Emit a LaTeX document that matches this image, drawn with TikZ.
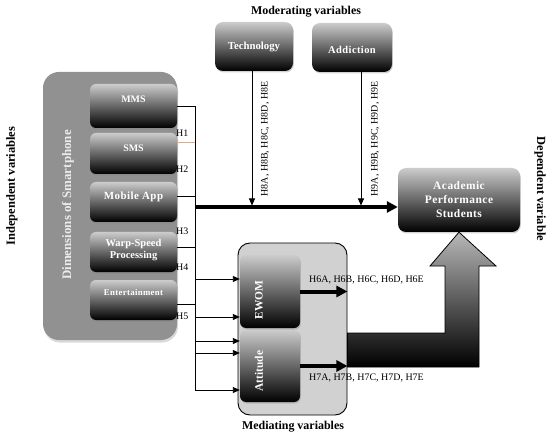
\documentclass[tikz,border=0pt]{standalone}
\usepackage{fontspec}
\setmainfont{Liberation Serif}
\newfontfamily\spacedbold[LetterSpace=4,BoldFont={* Bold}]{Liberation Serif}
\usetikzlibrary{arrows.meta,calc,shadows}
\begin{document}
\begin{tikzpicture}[x=1bp,y=-1bp,
  darkbox/.style={rounded corners=6bp, top color=black!20, bottom color=black, draw=none, inner sep=0pt,
    drop shadow={shadow xshift=0.8bp, shadow yshift=-1.5bp, opacity=0.35}},
  boxtext/.style={text=white, font=\bfseries\fontsize{10.5}{12}\selectfont, align=center, inner sep=0pt},
  rottext/.style={boxtext, rotate=90, font=\bfseries\fontsize{11.5}{13}\selectfont},
  title/.style={font=\bfseries\fontsize{12}{14}\selectfont, inner sep=0pt},
  hlab/.style={font=\fontsize{10}{12}\selectfont, inner sep=0pt},
  thinline/.style={line width=0.9bp, draw=black},
  thinarrow/.style={thinline, -{Triangle[length=7bp,width=6bp]}},
  mainarrow/.style={line width=3.5bp, -{Triangle[length=11bp,width=11bp]}},
  medarrow/.style={line width=4bp, -{Triangle[length=11bp,width=11bp]}}
]
\useasboundingbox (0,0) rectangle (550,439);

% titles
\node[title] (modt) at (306,12) {Moderating variables};
\node[title] (medt) at (293,427) {Mediating variables};
\node[title, rotate=90, font=\bfseries\fontsize{12.5}{14}\selectfont] (indt) at (12,186) {Independent variables};
\node[title, rotate=-90, font=\bfseries\fontsize{12.5}{14}\selectfont] (dept) at (540,189) {Dependent variable};

% moderators
\node[darkbox, rounded corners=8bp, minimum width=78bp, minimum height=49bp] (tech) at (254,46.5) {};
\node[boxtext, font=\bfseries\fontsize{10.8}{12}\selectfont] (techt) at (tech.center) {Technology};
\node[darkbox, rounded corners=8bp, minimum width=80bp, minimum height=49bp] (addict) at (352,47.5) {};
\node[boxtext, font=\spacedbold\bfseries\fontsize{10.5}{12}\selectfont] (addictt) at ([yshift=-2bp]addict.center) {Addiction};

% dimensions of smartphone
\node[rounded corners=16bp, fill=black!43, minimum width=134bp, minimum height=268bp, inner sep=0pt,
  drop shadow={shadow xshift=1bp, shadow yshift=-2.5bp, opacity=0.3}] (dim) at (110,206) {};
\node[rottext, text=black!8, font=\bfseries\fontsize{13}{15}\selectfont] (dimt) at (68,205) {Dimensions of Smartphone};

\node[darkbox, minimum width=87bp, minimum height=44bp] (mms) at (133.5,106) {};
\node[boxtext, font=\bfseries\fontsize{10}{12}\selectfont] (mmst) at ([yshift=7bp]mms.center) {MMS};
\node[darkbox, minimum width=87bp, minimum height=41bp] (sms) at (133.5,153.5) {};
\node[boxtext, font=\bfseries\fontsize{10}{12}\selectfont] (smst) at ([yshift=5.5bp]sms.center) {SMS};
\node[darkbox, minimum width=87bp, minimum height=40bp] (app) at (133.5,202) {};
\node[boxtext, font=\spacedbold\bfseries\fontsize{11}{12}\selectfont] (appt) at ([yshift=5bp]app.center) {Mobile App};
\node[darkbox, minimum width=87bp, minimum height=40bp] (warp) at (133.5,252) {};
\node[boxtext, font=\bfseries\fontsize{10.5}{12}\selectfont] (warpt) at ([yshift=1.5bp]warp.center) {Warp-Speed\\Processing};
\node[darkbox, minimum width=87bp, minimum height=40bp] (ent) at (133.5,300) {};
\node[boxtext, font=\spacedbold\bfseries\fontsize{8.8}{11}\selectfont] (entt) at ([yshift=7bp]ent.center) {Entertainment};

% dependent
\node[darkbox, rounded corners=8bp, minimum width=122bp, minimum height=64bp] (acad) at (459,200) {};
\node[boxtext, font=\spacedbold\bfseries\fontsize{11.5}{14}\selectfont] (acadt) at (acad.center) {Academic\\Performance\\Students};

% mediating
\node[rounded corners=12bp, fill=black!18, draw=black, line width=0.9bp, minimum width=109bp, minimum height=172bp, inner sep=0pt] (med) at (292.5,329) {};
\node[darkbox, minimum width=60bp, minimum height=73bp] (ewom) at (270,291.5) {};
\node[rottext] (ewomt) at ([xshift=-11bp,yshift=-8.5bp]ewom.center) {EWOM};
\node[darkbox, minimum width=60bp, minimum height=72bp] (att) at (270,366) {};
\node[rottext] (attt) at ([xshift=-11bp,yshift=-5bp]att.center) {Attitude};

% big arrow to dependent variable
\draw[line width=0.8bp, top color=black!28, bottom color=black]
  (med.east |- 0,333) -- (445,333) -- (445,266) -- (430,266) -- (acad.south) -- (496,266)
  -- (479,266) -- (479,367) -- (med.east |- 0,367) -- cycle;

% bus and connectors
\coordinate (bus) at (195,0);
\coordinate (m0) at ([yshift=-7bp]acad.west);
\coordinate (s1) at ([yshift=10.5bp]sms.east);
\coordinate (p1) at ([yshift=6bp]app.east);
\coordinate (w1) at ([yshift=5bp]warp.east);
\coordinate (n1) at ([yshift=-4bp]ent.east);
\coordinate (e1) at ([yshift=12.5bp]ewom.west);
\coordinate (e2) at ([yshift=-25.5bp]ewom.west);
\coordinate (a1) at ([yshift=25bp]att.west);
\coordinate (a2) at ([yshift=13bp]att.west);
\coordinate (a3) at ([yshift=-24bp]att.west);

\draw[thinline] (mms.east) -- (mms.east -| bus) -- (a3 -| bus);
\draw[line width=1bp, draw={rgb,255:red,228;green,170;blue,135}] (s1) -- (s1 -| bus);
\draw[thinline] (p1) -- (p1 -| bus);
\draw[thinline] (w1) -- (w1 -| bus);
\draw[thinline] (n1) -- (n1 -| bus);

\draw[thinarrow] (e1 -| bus) -- (e1);
\draw[thinarrow] (e2 -| bus) -- (e2);
\draw[thinarrow] (a1 -| bus) -- (a1);
\draw[thinarrow] (a2 -| bus) -- (a2);
\draw[thinarrow] (a3 -| bus) -- (a3);

\draw[mainarrow] (m0 -| bus) -- (m0);
\draw[thinarrow, shorten >=1.5bp] ([xshift=-2bp]tech.south) -- ([xshift=-2bp]tech.south |- m0);
\draw[thinarrow, shorten >=1.5bp] ([xshift=9bp]addict.south) -- ([xshift=9bp]addict.south |- m0);

\draw[medarrow] (ewom.east) -- (ewom.east -| med.east);
\draw[medarrow] (att.east) -- (att.east -| med.east);

% hypothesis labels
\node[hlab, anchor=west] (h1) at (176,133) {H1};
\node[hlab, anchor=west] (h2) at (176,169) {H2};
\node[hlab, anchor=west] (h3) at (176,231) {H3};
\node[hlab, anchor=west] (h4) at (176,267) {H4};
\node[hlab, anchor=west] (h5) at (176,316) {H5};
\node[hlab, rotate=90] (h8) at (265,139) {H8A, H8B, H8C, H8D, H8E};
\node[hlab, rotate=90] (h9) at (375,139) {H9A, H9B, H9C, H9D, H9E};
\node[hlab, anchor=west] (h6) at (309,280) {H6A, H6B, H6C, H6D, H6E};
\node[hlab, anchor=west] (h7) at (309,378) {H7A, H7B, H7C, H7D, H7E};
\end{tikzpicture}
\end{document}
